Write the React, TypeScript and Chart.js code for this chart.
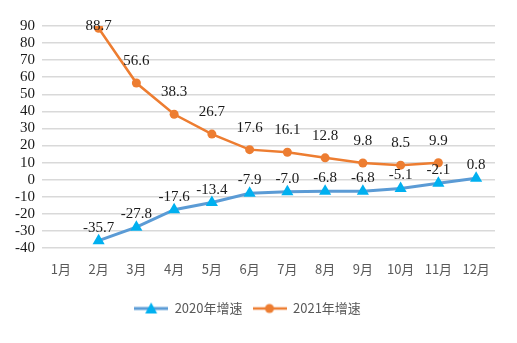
import React, { useEffect, useRef } from "react";
import { Chart, registerables } from "chart.js";
Chart.register(...registerables);

const categories = ["1月", "2月", "3月", "4月", "5月", "6月", "7月", "8月", "9月", "10月", "11月", "12月"];
const growth2020: (number | null)[] = [null, -35.7, -27.8, -17.6, -13.4, -7.9, -7.0, -6.8, -6.8, -5.1, -2.1, 0.8];
const growth2021: (number | null)[] = [null, 88.7, 56.6, 38.3, 26.7, 17.6, 16.1, 12.8, 9.8, 8.5, 9.9, null];
const seriesNames = ["2020年增速", "2021年增速"];
const yMin = -40;
const yMax = 90;
const yStep = 10;

const BLUE_LINE = "#5b9bd5";
const BLUE_MARK = "#00b0f0";
const ORANGE = "#ed7d31";

function makeLegendIcon(lineColor: string, markColor: string, shape: "triangle" | "circle", lw: number) {
  const c = document.createElement("canvas");
  c.width = 34;
  c.height = 14;
  const ctx = c.getContext("2d")!;
  ctx.strokeStyle = lineColor;
  ctx.lineWidth = lw;
  ctx.beginPath();
  ctx.moveTo(0, 7);
  ctx.lineTo(34, 7);
  ctx.stroke();
  ctx.fillStyle = markColor;
  ctx.beginPath();
  if (shape === "triangle") {
    ctx.moveTo(17, 1);
    ctx.lineTo(23, 12);
    ctx.lineTo(11, 12);
    ctx.closePath();
  } else {
    ctx.arc(17, 7, 4.5, 0, Math.PI * 2);
  }
  ctx.fill();
  return c;
}

const dataLabelPlugin = {
  id: "dataLabels",
  afterDatasetsDraw(chart: any) {
    const ctx = chart.ctx;
    const offsets = [13, 22];
    ctx.save();
    ctx.font = "15px 'Liberation Serif', 'Times New Roman', serif";
    ctx.fillStyle = "#1a1a1a";
    ctx.textAlign = "center";
    ctx.textBaseline = "middle";
    chart.data.datasets.forEach((ds: any, i: number) => {
      const meta = chart.getDatasetMeta(i);
      meta.data.forEach((pt: any, j: number) => {
        const v = ds.data[j];
        if (v === null || v === undefined) return;
        const y = Math.max(pt.y - offsets[i], chart.chartArea.top);
        ctx.fillText(v.toFixed(1), pt.x, y);
      });
    });
    ctx.restore();
  },
};

export default function App() {
  const ref = useRef<HTMLCanvasElement>(null);
  useEffect(() => {
    if (!ref.current) return;
    const icons = [
      makeLegendIcon(BLUE_LINE, BLUE_MARK, "triangle", 3),
      makeLegendIcon(ORANGE, ORANGE, "circle", 2.5),
    ];
    const chart = new Chart(ref.current, {
      type: "line",
      data: {
        labels: categories,
        datasets: [
          {
            label: seriesNames[0],
            data: growth2020,
            borderColor: BLUE_LINE,
            backgroundColor: BLUE_MARK,
            borderWidth: 3,
            pointStyle: "triangle",
            pointRadius: 7,
            pointBackgroundColor: BLUE_MARK,
            pointBorderColor: BLUE_MARK,
            pointBorderWidth: 0,
            tension: 0,
          },
          {
            label: seriesNames[1],
            data: growth2021,
            borderColor: ORANGE,
            backgroundColor: ORANGE,
            borderWidth: 2.5,
            pointStyle: "circle",
            pointRadius: 4.5,
            pointBackgroundColor: ORANGE,
            pointBorderColor: ORANGE,
            pointBorderWidth: 0,
            tension: 0,
          },
        ],
      },
      options: {
        responsive: false,
        animation: false,
        layout: { padding: { top: 26, right: 22, bottom: 18, left: 0 } },
        scales: {
          x: {
            offset: true,
            grid: { display: false, drawTicks: false },
            border: { display: false },
            ticks: {
              padding: 13,
              color: "#595959",
              font: { family: "'Noto Sans CJK SC', 'Noto Sans', sans-serif", size: 13 },
              maxRotation: 0,
              autoSkip: false,
            },
            afterFit(scale: any) {
              scale.height = 44;
            },
          },
          y: {
            min: yMin,
            max: yMax,
            grid: { color: "#d9d9d9", lineWidth: 1.5, drawTicks: false },
            border: { display: false },
            ticks: {
              stepSize: yStep,
              autoSkip: false,
              padding: 7,
              color: "#1a1a1a",
              font: { family: "'Liberation Serif', 'Times New Roman', serif", size: 15 },
            },
            afterFit(scale: any) {
              scale.width = 42;
            },
          },
        },
        plugins: {
          legend: {
            position: "bottom",
            labels: {
              usePointStyle: true,
              pointStyleWidth: 34,
              padding: 10,
              color: "#595959",
              font: { family: "'Noto Sans CJK SC', 'Noto Sans', sans-serif", size: 13 },
              generateLabels: (ch: any) =>
                ch.data.datasets.map((ds: any, i: number) => ({
                  text: ds.label,
                  pointStyle: icons[i],
                  datasetIndex: i,
                  hidden: false,
                  lineWidth: 0,
                  strokeStyle: "transparent",
                  fillStyle: "transparent",
                  fontColor: "#595959",
                })),
            },
          },
          tooltip: { enabled: false },
        },
      },
      plugins: [dataLabelPlugin],
    });
    return () => chart.destroy();
  }, []);
  return (
    <div style={{ position: "fixed", left: 0, top: 0, width: 517, height: 343, background: "#fff" }}>
      <canvas ref={ref} width={517} height={343} />
    </div>
  );
}
